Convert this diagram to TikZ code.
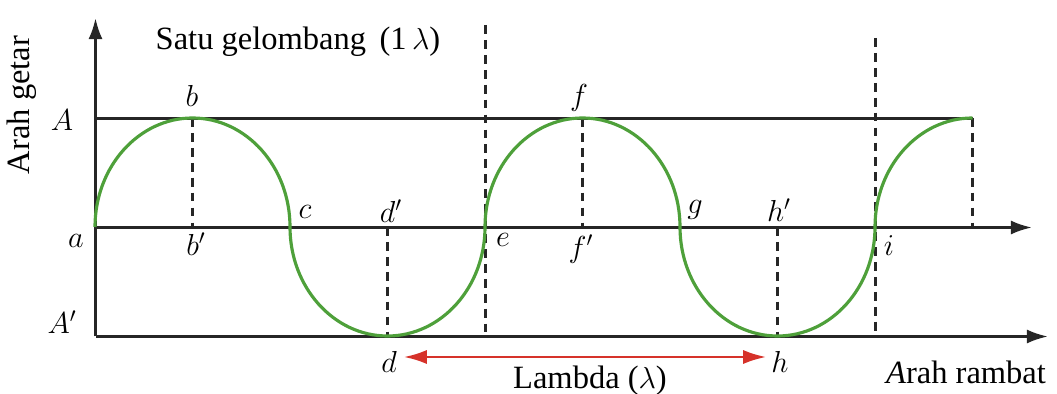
\documentclass[tikz,border=0pt]{standalone}
\usepackage{fontspec}
\setmainfont{Liberation Serif}
\usetikzlibrary{arrows.meta}
\definecolor{wavegreen}{RGB}{78,160,58}
\definecolor{lamred}{RGB}{214,50,42}

\tikzset{
  axis/.style={line width=1.6pt,black!85},
  axisarrow/.style={axis,-{Latex[length=12pt,width=8pt]}},
  guide/.style={line width=1.5pt,black!85,dash pattern=on 5pt off 3.5pt},
  wave/.style={line width=1.8pt,wavegreen},
  lamarrow/.style={line width=1.3pt,lamred,{Latex[length=13pt,width=8pt]}-{Latex[length=13pt,width=8pt]}},
  lbl/.style={inner sep=1pt}
}

\begin{document}
\begin{tikzpicture}[x=0.02cm,y=-0.02cm,font=\fontsize{18.5}{22}\selectfont]
  \useasboundingbox (0,0) rectangle (1057,394);
  % axes
  \coordinate (O) at (95.5,336.5);
  \coordinate (Ytop) at (95.5,18);
  \coordinate (Atop) at (95.5,118.5);
  \coordinate (Aend) at (972.5,118.5);
  \coordinate (P) at (95.5,227.5);
  \coordinate (Xend) at (1032,227.5);
  \coordinate (Bend) at (1048,336.5);
  \draw[axisarrow] (O) -- (Ytop);
  \draw[axis] (Atop) -- (Aend);
  \draw[axisarrow] (P) -- (Xend);
  \draw[axisarrow] (O) -- (Bend);
  % dashed guides
  \draw[guide] (192.5,118) -- (192.5,227);
  \draw[guide] (387.5,227) -- (387.5,336);
  \draw[guide] (485.5,25) -- (485.5,336);
  \draw[guide] (582.5,118) -- (582.5,227);
  \draw[guide] (777.5,227) -- (777.5,336);
  \draw[guide] (875.5,38) -- (875.5,336);
  \draw[guide] (972.5,118) -- (972.5,227);
  % wave
  \draw[wave] (95,227)
    .. controls (95,166.8) and (138.65,118) .. (192.5,118)
    .. controls (246.35,118) and (290,166.8) .. (290,227)
    .. controls (290,287.2) and (333.65,336) .. (387.5,336)
    .. controls (441.35,336) and (485,287.2) .. (485,227)
    .. controls (485,166.8) and (528.65,118) .. (582.5,118)
    .. controls (636.35,118) and (680,166.8) .. (680,227)
    .. controls (680,287.2) and (723.65,336) .. (777.5,336)
    .. controls (831.35,336) and (875,287.2) .. (875,227)
    .. controls (875,166.8) and (918.65,118) .. (972.5,118);
  % wavelength
  \coordinate (lamL) at (404,357);
  \coordinate (lamR) at (766,357);
  \draw[lamarrow] (lamL) -- (lamR);
  % labels
  \node (title) at (298,42) {Satu gelombang\, (1\,$\lambda$)};
  \node[rotate=90] (getar) at (22,105) {Arah getar};
  \node[lbl] (lA) at (62,120) {$A$};
  \node[lbl] (lAp) at (62,322) {$A'$};
  \node[lbl] (la) at (76,241) {$a$};
  \node[lbl] (lb) at (192,96) {$b$};
  \node[lbl] (lbp) at (196,244) {$b'$};
  \node[lbl] (lc) at (305,212) {$c$};
  \node[lbl] (ldp) at (391,211) {$d'$};
  \node[lbl] (le) at (503,240) {$e$};
  \node[lbl] (lf) at (579,98) {$f$};
  \node[lbl] (lfp) at (581,249) {$f'$};
  \node[lbl] (lg) at (695,210) {$g$};
  \node[lbl] (lhp) at (779,210) {$h'$};
  \node[lbl] (li) at (889,246) {$i$};
  \node[lbl] (ld) at (389,362) {$d$};
  \node[lbl] (lh) at (780,362) {$h$};
  \node (lambda) at (590,381) {Lambda ($\lambda$)};
  \node (rambat) at (966,372) {\textit{A}rah rambat};
\end{tikzpicture}
\end{document}
